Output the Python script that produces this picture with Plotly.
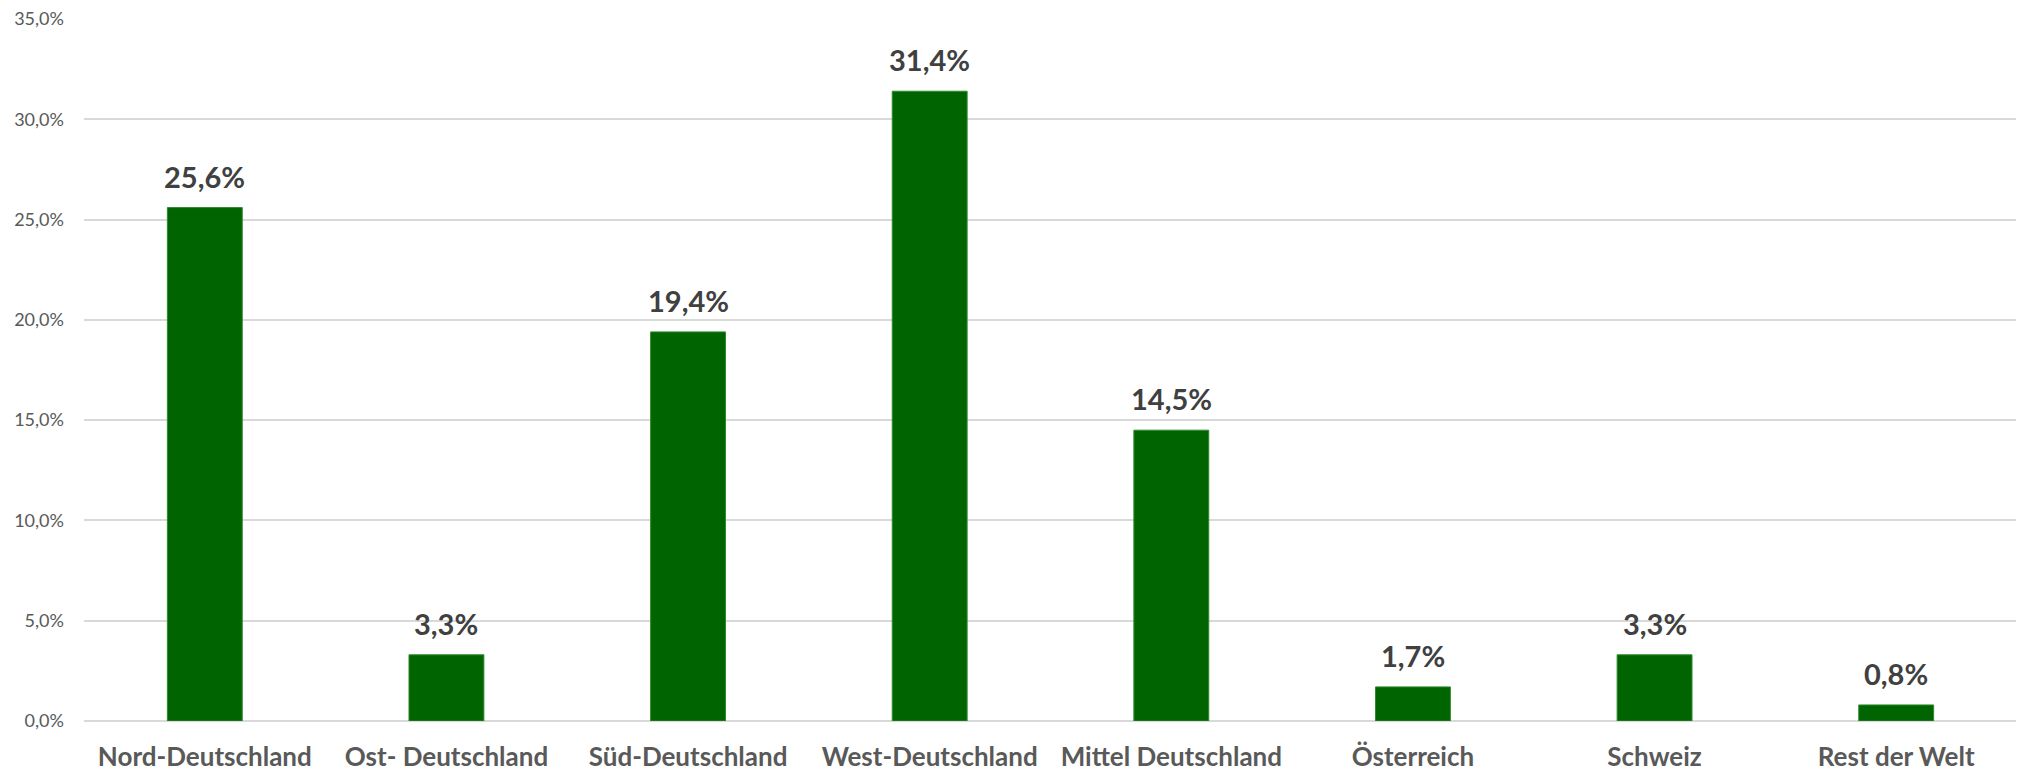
import plotly.graph_objects as go

categories = ["Nord-Deutschland", "Ost- Deutschland", "Süd-Deutschland", "West-Deutschland",
              "Mittel Deutschland", "Österreich", "Schweiz", "Rest der Welt"]
shares = [0.256, 0.033, 0.194, 0.314, 0.145, 0.017, 0.033, 0.008]
y_ticks = [0, 0.05, 0.10, 0.15, 0.20, 0.25, 0.30, 0.35]
value_labels = [f"{v * 100:.1f}%".replace(".", ",") for v in shares]

fig = go.Figure(go.Bar(
    x=categories, y=shares,
    marker=dict(color="#006400", line=dict(color="#2e8b2e", width=1)),
    hoverinfo="x+y",
))

for cat, val, lab in zip(categories, shares, value_labels):
    fig.add_annotation(
        x=cat, y=val, text=f"<b>{lab}</b>", showarrow=False,
        yanchor="bottom", yshift=12,
        font=dict(family="Lato", size=29, color="#404040"),
    )

# page body has an 8px default margin, so the figure is sized to fit the window
fig.update_layout(
    width=2016, height=763,
    margin=dict(l=76, r=7, t=11, b=50),
    paper_bgcolor="white", plot_bgcolor="white",
    separators=", ",
    bargap=0.69,
    showlegend=False,
    font=dict(family="Lato"),
)
fig.update_yaxes(
    range=[0, 0.35001], tickvals=y_ticks, tickformat=".1%",
    showgrid=True, gridcolor="#d9d9d9", gridwidth=1.5,
    zeroline=True, zerolinecolor="#d9d9d9", zerolinewidth=1.5,
    showline=False, ticks="",
    tickfont=dict(family="Lato", size=18, color="#595959"),
    ticklabelstandoff=19, ticklabeloverflow="allow", automargin=False,
)
fig.update_xaxes(
    showline=False, ticks="",
    tickfont=dict(family="Lato", size=26, color="#595959", weight="bold"),
    ticklabelstandoff=18, automargin=False,
)

fig.write_html("out.html")
